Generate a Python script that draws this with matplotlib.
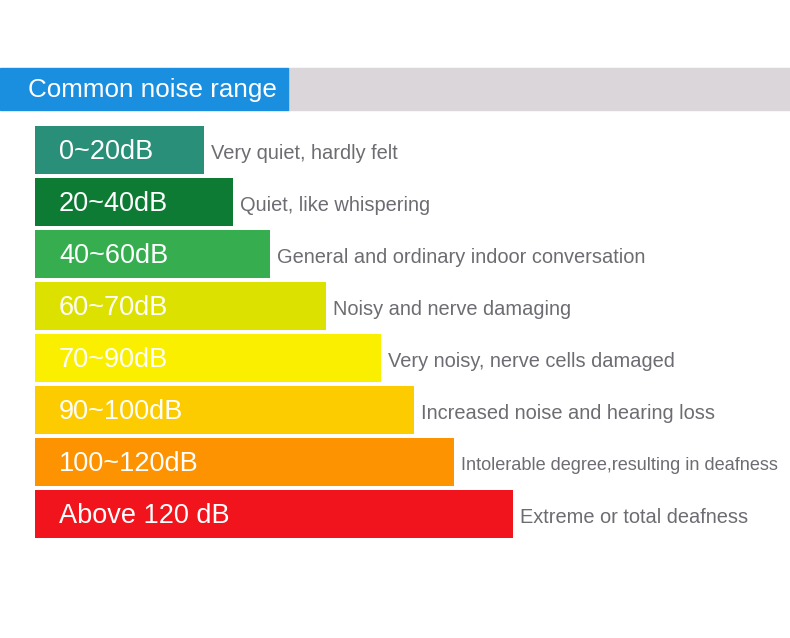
import matplotlib
matplotlib.use("Agg")
import matplotlib.pyplot as plt
from matplotlib.patches import Rectangle
import numpy as np

plt.rcParams['font.family'] = ['Liberation Sans', 'DejaVu Sans']

title = "Common noise range"
ranges = ["0~20dB", "20~40dB", "40~60dB", "60~70dB", "70~90dB",
          "90~100dB", "100~120dB", "Above 120 dB"]
descriptions = ["Very quiet, hardly felt", "Quiet, like whispering",
                "General and ordinary indoor conversation",
                "Noisy and nerve damaging", "Very noisy, nerve cells damaged",
                "Increased noise and hearing loss",
                "Intolerable degree,resulting in deafness",
                "Extreme or total deafness"]
bar_lengths = [169, 198, 235, 291, 346, 379, 419, 478]
colors = ["#2a8f78", "#0e7b34", "#36ae4f", "#dde100", "#fbef00",
          "#fdcc00", "#fd9300", "#f1141d"]
desc_sizes = [14.4, 14.4, 14.4, 14.4, 14.4, 14.4, 13.1, 14.4]

W, H = 790, 638
fig = plt.figure(figsize=(W / 100, H / 100), dpi=100)
fig.patch.set_facecolor("white")

# header band
fig.patches.append(Rectangle((288 / W, 1 - 110 / H), (W - 288) / W, 42 / H,
                             transform=fig.transFigure, color="#dbd6da", zorder=0))
fig.patches.append(Rectangle((0, 1 - 110 / H), 288 / W, 42 / H,
                             transform=fig.transFigure, color="#1b8fdf", zorder=1))
fig.text(28 / W, 1 - 89.5 / H, title, color="white", fontsize=18.7,
         ha="left", va="center", zorder=2)

# bars axes: pixel-unit x, row-unit y
top_px, row_px = 123.75, 52.0
n = len(ranges)
ax = fig.add_axes([35 / W, 1 - (top_px + row_px * n) / H,
                   (W - 35) / W, row_px * n / H])
ax.set_xlim(0, W - 35)
ax.set_ylim(n - 0.5, -0.5)
ax.axis("off")

y = np.arange(n)
ax.barh(y, bar_lengths, height=47.5 / row_px, color=colors, left=0)
for i in range(n):
    ax.text(24, y[i] + 0.05, ranges[i], color="white", fontsize=19.5,
            ha="left", va="center")
    ax.annotate(descriptions[i], xy=(bar_lengths[i], y[i] + 0.08),
                xytext=(7, 0), textcoords="offset pixels",
                color="#6d6c72", fontsize=desc_sizes[i], ha="left", va="center")

fig.savefig("out.png", dpi=100, facecolor="white")
